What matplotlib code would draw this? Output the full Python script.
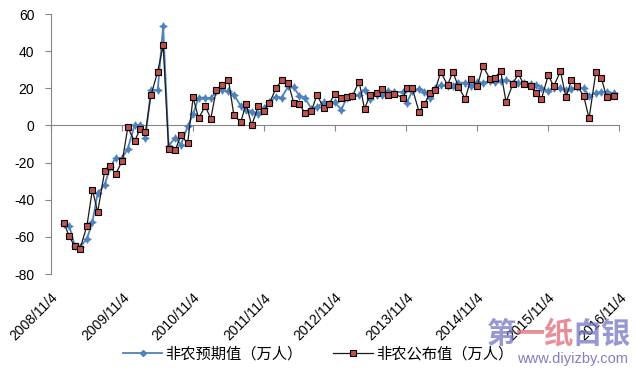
import matplotlib
matplotlib.use('Agg')
import matplotlib.pyplot as plt
from matplotlib.lines import Line2D
import pandas as pd

plt.rcParams['font.family'] = ['Liberation Sans', 'Noto Sans CJK SC', 'DejaVu Sans']

# release dates of the non-farm payroll report
release_dates = [
    '2009-01-09', '2009-02-06', '2009-03-06', '2009-04-03', '2009-05-08', '2009-06-05',
    '2009-07-02', '2009-08-07', '2009-09-04', '2009-10-02', '2009-11-06', '2009-12-04',
    '2010-01-08', '2010-02-05', '2010-03-05', '2010-04-02', '2010-05-07', '2010-06-04',
    '2010-07-02', '2010-08-06', '2010-09-03', '2010-10-08', '2010-11-05', '2010-12-03',
    '2011-01-07', '2011-02-04', '2011-03-04', '2011-04-01', '2011-05-06', '2011-06-03',
    '2011-07-08', '2011-08-05', '2011-09-02', '2011-10-07', '2011-11-04', '2011-12-02',
    '2012-01-06', '2012-02-03', '2012-03-09', '2012-04-06', '2012-05-04', '2012-06-01',
    '2012-07-06', '2012-08-03', '2012-09-07', '2012-10-05', '2012-11-02', '2012-12-07',
    '2013-01-04', '2013-02-01', '2013-03-08', '2013-04-05', '2013-05-03', '2013-06-07',
    '2013-07-05', '2013-08-02', '2013-09-06', '2013-10-22', '2013-11-08', '2013-12-06',
    '2014-01-10', '2014-02-07', '2014-03-07', '2014-04-04', '2014-05-02', '2014-06-06',
    '2014-07-03', '2014-08-01', '2014-09-05', '2014-10-03', '2014-11-07', '2014-12-05',
    '2015-01-09', '2015-02-06', '2015-03-06', '2015-04-03', '2015-05-08', '2015-06-05',
    '2015-07-02', '2015-08-07', '2015-09-04', '2015-10-02', '2015-11-06', '2015-12-04',
    '2016-01-08', '2016-02-05', '2016-03-04', '2016-04-01', '2016-05-06', '2016-06-03',
    '2016-07-08', '2016-08-05', '2016-09-02', '2016-10-07',
]

# 非农预期值（万人）
expected = [
    -53.0, -54.0, -64.8, -65.4, -61.0, -52.0, -36.5, -32.0, -22.5, -17.5, -17.5, -12.5,
    0.0, 0.5, -6.8, 19.0, 19.0, 53.6, -11.0, -6.5, -10.5, -0.5, 6.0, 15.0,
    15.0, 14.6, 18.5, 19.0, 18.5, 16.5, 10.5, 8.5, 7.5, 6.0, 9.5, 12.5,
    15.5, 15.0, 21.0, 20.5, 16.0, 15.0, 9.0, 10.0, 12.5, 11.5, 12.5, 8.5,
    15.0, 16.0, 16.5, 19.0, 14.5, 16.5, 16.5, 18.5, 18.0, 18.0, 12.0, 18.5,
    19.7, 18.0, 14.9, 20.0, 21.8, 21.5, 21.5, 23.0, 23.0, 21.5, 23.5, 23.0,
    24.0, 23.4, 24.0, 24.5, 23.0, 22.6, 23.0, 22.5, 22.0, 20.3, 18.5, 20.0,
    20.0, 19.0, 19.5, 20.5, 20.0, 16.0, 17.5, 18.0, 18.0, 17.5,
]

# 非农公布值（万人）
actual = [
    -52.4, -59.8, -65.1, -66.3, -53.9, -34.5, -46.7, -24.7, -21.6, -26.3, -19.0, -1.1,
    -8.5, -2.0, -3.6, 16.2, 29.0, 43.1, -12.5, -13.1, -5.4, -9.5, 15.1, 3.9,
    10.3, 3.6, 19.2, 21.6, 24.4, 5.4, 1.8, 11.7, 0.0, 10.3, 8.0, 12.0,
    20.0, 24.3, 22.7, 12.0, 11.5, 6.9, 8.0, 16.3, 9.6, 11.4, 17.1, 14.6,
    15.5, 15.7, 23.6, 8.8, 16.5, 17.5, 19.5, 16.2, 16.9, 14.8, 20.4, 20.3,
    7.4, 11.3, 17.5, 19.2, 28.8, 21.7, 28.8, 20.9, 14.2, 24.8, 21.4, 32.1,
    25.2, 25.7, 29.5, 12.6, 22.3, 28.0, 22.3, 21.5, 17.3, 14.2, 27.1, 21.1,
    29.2, 15.1, 24.2, 21.5, 16.0, 3.8, 28.7, 25.5, 15.1, 15.6,
]

tick_dates = ['2008-11-04', '2009-11-04', '2010-11-04', '2011-11-04', '2012-11-04',
              '2013-11-04', '2014-11-04', '2015-11-04', '2016-11-04']
tick_labels = ['2008/11/4', '2009/11/4', '2010/11/4', '2011/11/4', '2012/11/4',
               '2013/11/4', '2014/11/4', '2015/11/4', '2016/11/4']
y_ticks = [-80, -60, -40, -20, 0, 20, 40, 60]
series_names = ['非农预期值（万人）', '非农公布值（万人）']
watermark_parts = [('第', '#7474C4'), ('一纸', '#E06878'), ('白银', '#7474C4')]
watermark_url = 'www.diyizby.com'

x = pd.to_datetime(release_dates)
tx = pd.to_datetime(tick_dates)

fig = plt.figure(figsize=(6.36, 3.70), dpi=100)
ax = fig.add_axes([51 / 636, 1 - 274 / 370, (619 - 51) / 636, (274 - 14) / 370])

blue = '#4F81BD'
ax.plot(x, expected, color=blue, lw=1.3, marker=(4, 1, 0), ms=5.5,
        markerfacecolor=blue, markeredgecolor=blue, mew=0.6, zorder=3)
ax.plot(x, actual, color='#1a1a1a', lw=0.9, marker='s', ms=4.8,
        markerfacecolor='#C0504D', markeredgecolor='black', mew=0.8, zorder=4)

ax.set_xlim(tx[0], tx[-1])
ax.set_ylim(y_ticks[0], y_ticks[-1])
ax.set_yticks(y_ticks)
ax.set_yticklabels([str(v) for v in y_ticks], fontsize=10)

gray = '#868686'
for s in ['top', 'right', 'bottom']:
    ax.spines[s].set_visible(False)
ax.spines['left'].set_color(gray)
ax.tick_params(axis='y', direction='out', length=4, color=gray, pad=8)

ax.set_xticks(tx)
ax.set_xticklabels(tick_labels, rotation=45, ha='right', va='top',
                   rotation_mode='anchor', fontsize=10)
ax.tick_params(axis='x', length=0, pad=12)

# zero axis with year ticks
loc0 = (0 - y_ticks[0]) / (y_ticks[-1] - y_ticks[0])
sec = ax.secondary_xaxis(loc0)
sec.set_alignment('bottom')
sec.set_xticks(tx)
sec.set_xticklabels([''] * len(tx))
sec.tick_params(axis='x', direction='out', length=4, color=gray)
sec.spines['bottom'].set_color(gray)
sec.spines['top'].set_visible(False)

handles = [
    Line2D([], [], color=blue, lw=1.3, marker='D', ms=3, markerfacecolor=blue, markeredgecolor=blue),
    Line2D([], [], color='#1a1a1a', lw=0.9, marker='s', ms=4.5,
           markerfacecolor='#C0504D', markeredgecolor='black', mew=0.8),
]
fig.legend(handles, series_names, loc='center', bbox_to_anchor=(318 / 636, 1 - 354 / 370),
           ncol=2, frameon=False, handlelength=2.6, handletextpad=0.2,
           columnspacing=2.0, prop={'family': ['Noto Sans CJK SC'], 'size': 11})

# watermark (semi-transparent, overlapping like in the source image)
wm_y = 1 - 334 / 370
char_w = (630 - 487) / 5 / 636
i = 0
for txt, col in watermark_parts:
    fig.text(487 / 636 + i * char_w, wm_y, txt, ha='left', va='center', fontsize=21,
             fontweight='bold', color=col, alpha=0.75, family=['Noto Sans CJK SC'])
    i += len(txt)
fig.text(628 / 636, 1 - 359 / 370, watermark_url, ha='right', va='center', fontsize=10.5,
         color='#6A5BB0', alpha=0.8, family=['Liberation Sans'])

fig.savefig('out.png', dpi=100)
